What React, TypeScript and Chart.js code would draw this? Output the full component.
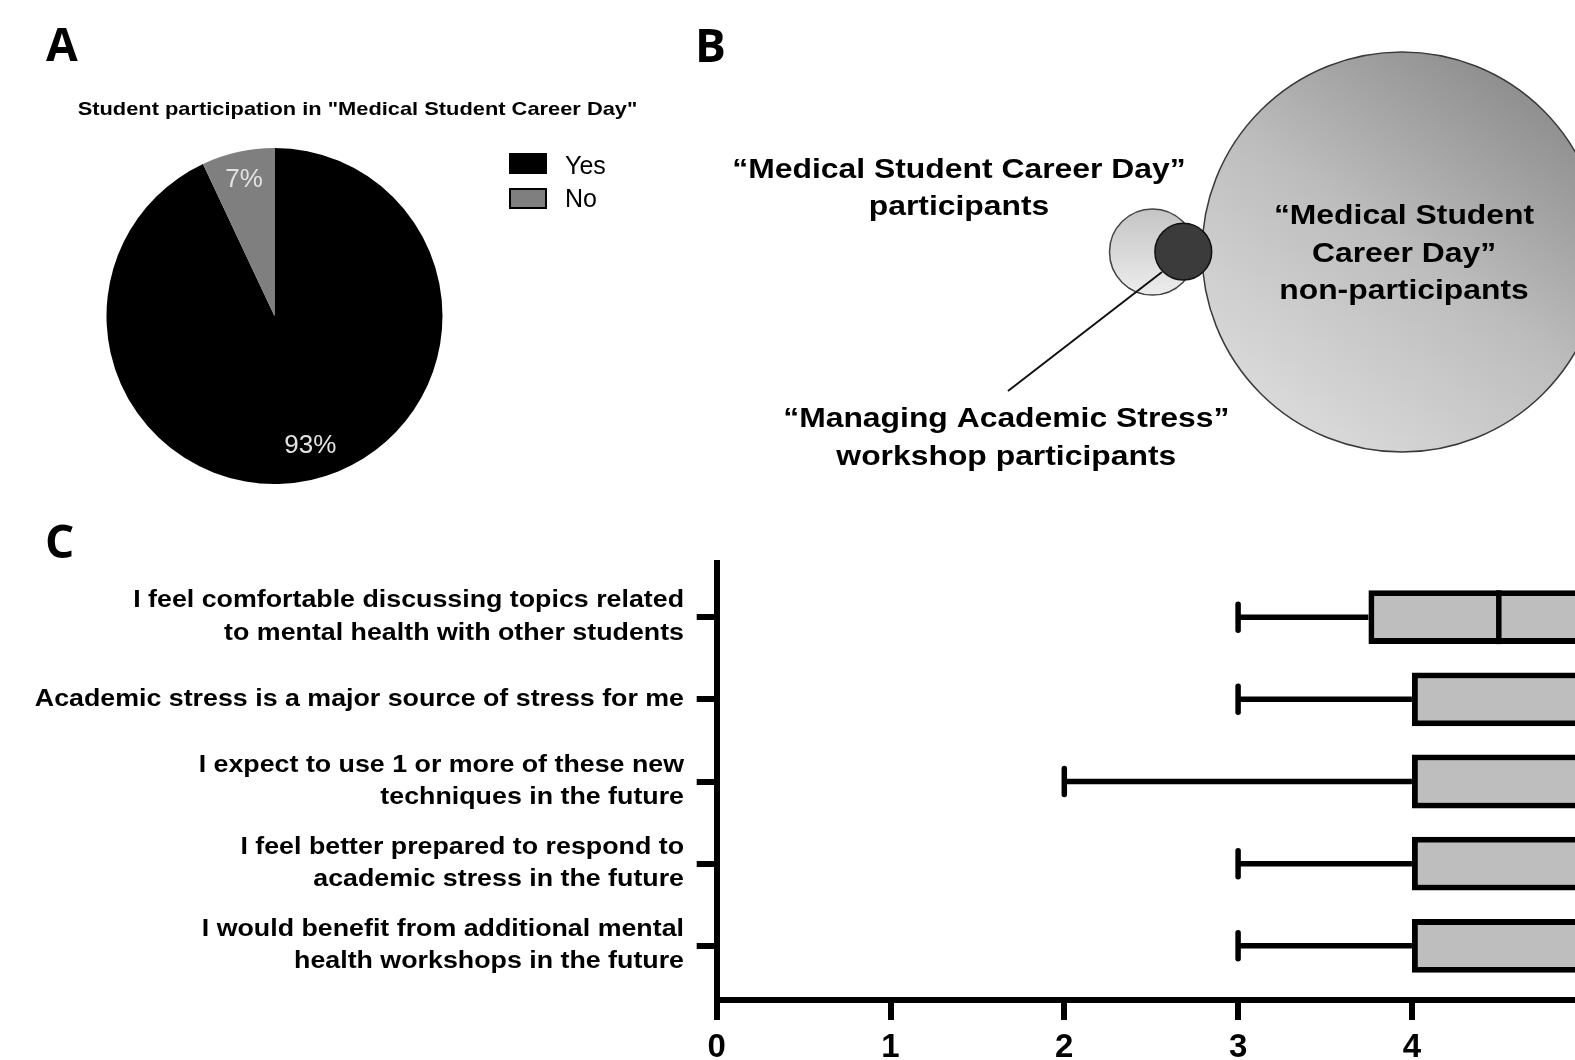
import React, { useEffect, useRef } from "react";
import { Chart, registerables } from "chart.js";

Chart.register(...registerables);

// ---------------- Panel A : pie ----------------
const pieLabels = ["Yes", "No"];
const pieValues = [93, 7];
const pieColors = ["#000000", "#7f7f7f"];
const pieTitle = 'Student participation in "Medical Student Career Day"';

// ---------------- Panel B : Venn diagram ----------------
const vennLabelLines = [
  ["“Medical Student", "Career Day”", "non-participants"],
  ["“Medical Student Career Day”", "participants"],
  ["“Managing Academic Stress”", "workshop participants"],
];
const vennCenterX = [71.2, 46.25, 49.33];
const vennCenterY = [25.2, 25.2, 25.17];
const vennRadius = [200, 43, 28.4];
const leaderX = [47.2, 31.8];
const leaderY = [27.2, 39.1];

// ---------------- Panel C : box plots ----------------
const surveyItems = [
  ["I feel comfortable discussing topics related", "to mental health with other students"],
  ["Academic stress is a major source of stress for me"],
  ["I expect to use 1 or more of these new", "techniques in the future"],
  ["I feel better prepared to respond to", "academic stress in the future"],
  ["I would benefit from additional mental", "health workshops in the future"],
];
const whiskerLow = [3, 3, 2, 3, 3];
const quartile1 = [3.75, 4, 4, 4, 4];
const medians = [4.5, 5, 5, 5, 5];
const quartile3 = [5, 5, 5, 5, 5];
const whiskerHigh = [5, 5, 5, 5, 5];
const xTicks = [0, 1, 2, 3, 4, 5];

const SANS = "'Liberation Sans', Arial, Helvetica, sans-serif";
const LETTER_FONT = "700 46px 'Open Sans', 'Liberation Sans', sans-serif";

function stretchedText(
  ctx: CanvasRenderingContext2D,
  text: string,
  x: number,
  y: number,
  font: string,
  sx: number,
  align: "left" | "center" | "right",
  color = "#000"
) {
  ctx.save();
  ctx.font = font;
  ctx.fillStyle = color;
  ctx.textBaseline = "alphabetic";
  ctx.textAlign = "left";
  const w = ctx.measureText(text).width * sx;
  const left = align === "center" ? x - w / 2 : align === "right" ? x - w : x;
  ctx.translate(left, y);
  ctx.scale(sx, 1);
  ctx.fillText(text, 0, 0);
  ctx.restore();
}

function drawLetter(ctx: CanvasRenderingContext2D, letter: string, x: number, y: number) {
  ctx.save();
  ctx.font = LETTER_FONT;
  ctx.fillStyle = "#000";
  ctx.textAlign = "left";
  ctx.textBaseline = "alphabetic";
  ctx.fillText(letter, x, y);
  ctx.restore();
}

const panelAPlugin = {
  id: "panelA",
  afterDatasetsDraw(chart: any) {
    const ctx = chart.ctx as CanvasRenderingContext2D;
    const meta = chart.getDatasetMeta(0);
    const total = pieValues.reduce((a, b) => a + b, 0);
    meta.data.forEach((arc: any, i: number) => {
      const p = arc.getProps(["x", "y", "startAngle", "endAngle", "outerRadius"], true);
      const mid = (p.startAngle + p.endAngle) / 2 - (i === 0 ? 0.05 : 0);
      const rr = p.outerRadius * (i === 0 ? 0.8 : 0.83);
      const tx = p.x + Math.cos(mid) * rr;
      const ty = p.y + Math.sin(mid) * rr;
      ctx.save();
      ctx.font = `26px ${SANS}`;
      ctx.fillStyle = "#e2e2e2";
      ctx.textAlign = "center";
      ctx.textBaseline = "middle";
      ctx.fillText(`${Math.round((pieValues[i] / total) * 100)}%`, tx, ty);
      ctx.restore();
    });
  },
  afterDraw(chart: any) {
    const ctx = chart.ctx as CanvasRenderingContext2D;
    drawLetter(ctx, "A", 46, 61);
    stretchedText(ctx, pieTitle, 357.5, 115, `bold 18.6px ${SANS}`, 1.175, "center");
    const ds = chart.data.datasets[0];
    (chart.data.labels as string[]).forEach((lab, i) => {
      const bx = 509;
      const by = 153 + i * 35;
      const bw = 38;
      const bh = 21;
      ctx.save();
      ctx.fillStyle = ds.backgroundColor[i];
      ctx.fillRect(bx, by, bw, bh);
      ctx.lineWidth = 2;
      ctx.strokeStyle = "#000";
      ctx.strokeRect(bx + 1, by + 1, bw - 2, bh - 2);
      ctx.font = `25px ${SANS}`;
      ctx.fillStyle = "#000";
      ctx.textAlign = "left";
      ctx.textBaseline = "alphabetic";
      ctx.fillText(lab, 565, 174 + i * 33);
      ctx.restore();
    });
  },
};

const panelBPlugin = {
  id: "panelB",
  afterDraw(chart: any) {
    const ctx = chart.ctx as CanvasRenderingContext2D;
    drawLetter(ctx, "B", 5, 62);
    const font = `bold 27px ${SANS}`;
    const sx = 1.18;
    const xs = chart.scales.x;
    const ys = chart.scales.y;
    // label inside the large circle, centred on it
    const cx = xs.getPixelForValue(vennCenterX[0]) + 2;
    const cy = ys.getPixelForValue(vennCenterY[0]);
    vennLabelLines[0].forEach((t, k) => {
      stretchedText(ctx, t, cx, cy + (k - 1) * 37.3 + 9.7, font, sx, "center");
    });
    // participants label (above-left)
    vennLabelLines[1].forEach((t, k) => {
      stretchedText(ctx, t, 269, 178.3 + k * 36.8, font, sx, "center");
    });
    // workshop label (below)
    vennLabelLines[2].forEach((t, k) => {
      stretchedText(ctx, t, 316.3, 426.7 + k * 38.3, font, sx, "center");
    });
  },
};

const panelCPlugin = {
  id: "panelC",
  afterDatasetsDraw(chart: any) {
    const ctx = chart.ctx as CanvasRenderingContext2D;
    const xs = chart.scales.x;
    const ys = chart.scales.y;
    const meta = chart.getDatasetMeta(0);
    const seg = (x1: number, y1: number, x2: number, y2: number) => {
      ctx.beginPath();
      ctx.moveTo(x1, y1);
      ctx.lineTo(x2, y2);
      ctx.stroke();
    };
    ctx.save();
    ctx.strokeStyle = "#000";
    surveyItems.forEach((_, i) => {
      const yc = ys.getPixelForValue(i + 1);
      const h = meta.data[i].height;
      const xLo = xs.getPixelForValue(whiskerLow[i]);
      const xQ1 = xs.getPixelForValue(quartile1[i]);
      const xQ3 = xs.getPixelForValue(quartile3[i]);
      const xHi = xs.getPixelForValue(whiskerHigh[i]);
      const xMed = xs.getPixelForValue(medians[i]);
      ctx.lineWidth = 5.5;
      ctx.lineCap = "butt";
      if (xQ1 > xLo) seg(xLo, yc, xQ1, yc);
      if (xHi > xQ3) seg(xQ3, yc, xHi, yc);
      seg(xMed, yc - h / 2, xMed, yc + h / 2);
      ctx.lineCap = "round";
      seg(xLo, yc - 13, xLo, yc + 13);
      seg(xHi, yc - 13, xHi, yc + 13);
    });
    ctx.restore();
  },
  afterDraw(chart: any) {
    const ctx = chart.ctx as CanvasRenderingContext2D;
    drawLetter(ctx, "C", 45, 58);
    const ys = chart.scales.y;
    const font = `bold 23.5px ${SANS}`;
    const capHalf = (23.5 * 0.716) / 2;
    surveyItems.forEach((lines, i) => {
      const yc = ys.getPixelForValue(i + 1) - 2;
      const n = lines.length;
      lines.forEach((t, k) => {
        const mid = yc + (k - (n - 1) / 2) * 32.5;
        stretchedText(ctx, t, 684, mid + capHalf, font, 1.14, "right");
      });
    });
  },
};

export default function App() {
  const aRef = useRef<HTMLCanvasElement>(null);
  const bRef = useRef<HTMLCanvasElement>(null);
  const cRef = useRef<HTMLCanvasElement>(null);

  useEffect(() => {
    const charts: Chart[] = [];

    if (aRef.current) {
      charts.push(
        new Chart(aRef.current, {
          type: "pie",
          data: {
            labels: pieLabels,
            datasets: [{ data: pieValues, backgroundColor: pieColors, borderWidth: 0 }],
          },
          options: {
            animation: false,
            responsive: false,
            layout: { autoPadding: false, padding: { left: 106.5, top: 148, right: 247.5, bottom: 16 } },
            plugins: { legend: { display: false }, tooltip: { enabled: false } },
          },
          plugins: [panelAPlugin],
        } as any)
      );
    }

    if (bRef.current) {
      const bigGradient = (c: any) => {
        const ch = c.chart;
        if (!ch.chartArea) return "#bbbbbb";
        const px = ch.scales.x.getPixelForValue(vennCenterX[0]);
        const py = ch.scales.y.getPixelForValue(vennCenterY[0]);
        const r = vennRadius[0];
        const g = ch.ctx.createLinearGradient(px - 0.5 * r, py + r, px + 0.8 * r, py - 0.8 * r);
        g.addColorStop(0, "#dcdcdc");
        g.addColorStop(0.5, "#bdbdbd");
        g.addColorStop(1, "#8a8a8a");
        return g;
      };
      const lightGradient = (c: any) => {
        const ch = c.chart;
        if (!ch.chartArea) return "#dddddd";
        const px = ch.scales.x.getPixelForValue(vennCenterX[1]);
        const py = ch.scales.y.getPixelForValue(vennCenterY[1]);
        const r = vennRadius[1];
        const g = ch.ctx.createLinearGradient(px, py - r, px, py + r);
        g.addColorStop(0, "#c4c4c4");
        g.addColorStop(1, "#ededed");
        return g;
      };
      charts.push(
        new Chart(bRef.current, {
          type: "bubble",
          data: {
            datasets: [
              {
                type: "line",
                data: leaderX.map((x, i) => ({ x, y: leaderY[i] })),
                borderColor: "#111111",
                borderWidth: 2,
                pointRadius: 0,
                fill: false,
                order: 0,
                clip: false,
              },
              {
                data: [{ x: vennCenterX[2], y: vennCenterY[2], r: vennRadius[2] }],
                backgroundColor: "#3b3b3b",
                borderColor: "#111111",
                borderWidth: 1.5,
                order: 1,
                clip: false,
              },
              {
                data: [{ x: vennCenterX[1], y: vennCenterY[1], r: vennRadius[1] }],
                backgroundColor: lightGradient,
                borderColor: "#444444",
                borderWidth: 1.5,
                order: 2,
                clip: false,
              },
              {
                data: [{ x: vennCenterX[0], y: vennCenterY[0], r: vennRadius[0] }],
                backgroundColor: bigGradient,
                borderColor: "#3a3a3a",
                borderWidth: 1.5,
                order: 3,
                clip: false,
              },
            ],
          },
          options: {
            animation: false,
            responsive: false,
            layout: { autoPadding: false, padding: 0 },
            scales: {
              x: { type: "linear", min: 0, max: 100, display: false },
              y: { type: "linear", min: 0, max: 50, reverse: true, display: false },
            },
            plugins: { legend: { display: false }, tooltip: { enabled: false } },
          },
          plugins: [panelBPlugin],
        } as any)
      );
    }

    if (cRef.current) {
      const axisGrid = {
        display: true,
        drawOnChartArea: false,
        drawTicks: true,
        tickLength: 20,
        lineWidth: 6,
        color: "#000000",
        offset: false,
      };
      const axisBorder = { display: true, width: 6, color: "#000000" };
      charts.push(
        new Chart(cRef.current, {
          type: "bar",
          data: {
            datasets: [
              {
                data: surveyItems.map((_, i) => ({ x: [quartile1[i], quartile3[i]], y: i + 1 })),
                backgroundColor: "#bebebe",
                borderColor: "#000000",
                borderWidth: 6,
                borderSkipped: false,
                barPercentage: 0.655,
                categoryPercentage: 1,
              },
            ],
          },
          options: {
            indexAxis: "y",
            animation: false,
            responsive: false,
            layout: { autoPadding: false, padding: { left: 686.7, top: 63, right: 27.4, bottom: 0 } },
            scales: {
              x: {
                type: "linear",
                position: "bottom",
                min: 0,
                max: 5.5,
                offset: false,
                afterBuildTicks: (s: any) => {
                  s.ticks = xTicks.map((v) => ({ value: v }));
                },
                afterFit: (s: any) => {
                  s.height = 60;
                },
                grid: axisGrid,
                border: axisBorder,
                ticks: {
                  color: "#000000",
                  font: { family: SANS, weight: "bold", size: 33 },
                  padding: 8,
                  maxRotation: 0,
                  autoSkip: false,
                },
              },
              y: {
                type: "linear",
                position: "left",
                min: 0.34,
                max: 5.66,
                reverse: true,
                offset: false,
                afterBuildTicks: (s: any) => {
                  s.ticks = surveyItems.map((_, i) => ({ value: i + 1 }));
                },
                afterFit: (s: any) => {
                  s.width = 30;
                },
                grid: axisGrid,
                border: axisBorder,
                ticks: { display: false },
              },
            },
            plugins: { legend: { display: false }, tooltip: { enabled: false } },
          },
          plugins: [panelCPlugin],
        } as any)
      );
    }

    return () => charts.forEach((c) => c.destroy());
  }, []);

  return (
    <div
      style={{
        position: "fixed",
        left: 0,
        top: 0,
        width: 1575,
        height: 1060,
        overflow: "hidden",
        background: "#ffffff",
      }}
    >
      <canvas
        ref={aRef}
        width={690}
        height={500}
        style={{ position: "absolute", left: 0, top: 0, width: 690, height: 500 }}
      />
      <canvas
        ref={bRef}
        width={1000}
        height={500}
        style={{ position: "absolute", left: 690, top: 0, width: 1000, height: 500 }}
      />
      <canvas
        ref={cRef}
        width={1700}
        height={560}
        style={{ position: "absolute", left: 0, top: 500, width: 1700, height: 560 }}
      />
    </div>
  );
}
